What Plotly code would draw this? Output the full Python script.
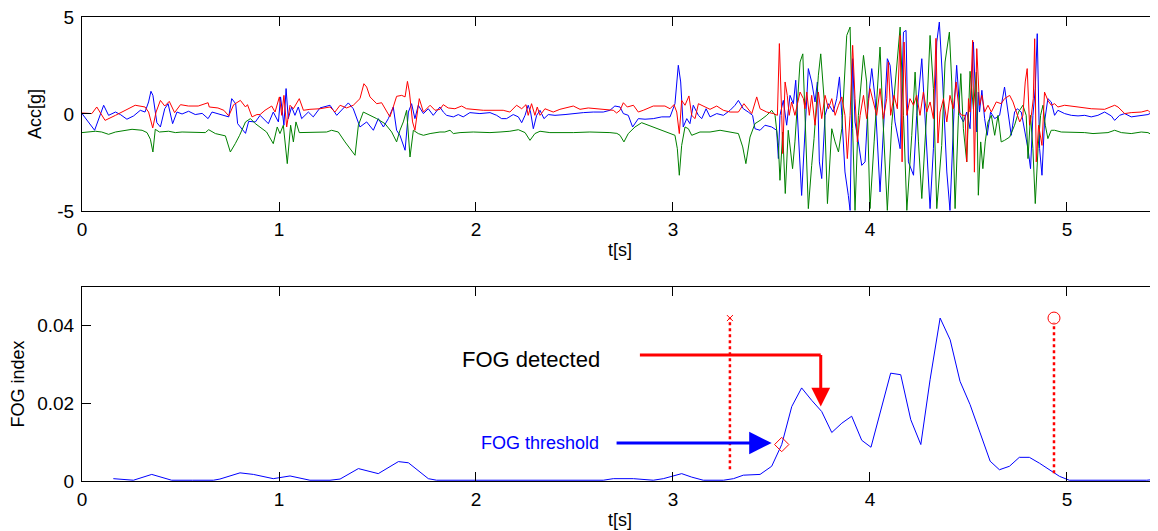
import plotly.graph_objects as go

# ---------------- top panel: acceleration (g) ----------------
red_t = [0.00, 0.05, 0.075, 0.117, 0.17, 0.22, 0.27, 0.32, 0.338, 0.359, 0.376, 0.398, 0.42, 0.443, 0.47, 0.5, 0.54, 0.59, 0.64, 0.646, 0.69, 0.72, 0.745, 0.77, 0.804, 0.83, 0.84, 0.863, 0.888,
         0.904, 0.929, 0.963, 0.98, 1.002, 1.014, 1.025, 1.039, 1.056, 1.073, 1.103, 1.124, 1.157, 1.208, 1.259, 1.284, 1.31, 1.343, 1.377, 1.411, 1.431, 1.445, 1.462, 1.496, 1.521, 1.546, 1.563, 1.58, 1.597, 1.623, 1.64, 1.652, 1.662, 1.678, 1.69, 1.712, 1.733, 1.767, 1.792,
         1.817, 1.834, 1.859, 1.893, 1.927, 1.952, 2.037, 2.138, 2.172, 2.206, 2.232, 2.254, 2.265, 2.282, 2.299, 2.311, 2.325, 2.35, 2.392, 2.426, 2.494, 2.528, 2.57, 2.663, 2.697, 2.714,
         2.731, 2.748, 2.768, 2.799, 2.824, 2.849, 2.9, 2.959, 2.985, 3.005, 3.019, 3.032, 3.044, 3.061, 3.081, 3.095, 3.112, 3.129, 3.154, 3.188, 3.222, 3.256, 3.29, 3.332, 3.36, 3.382, 3.4, 3.425, 3.442, 3.476, 3.51, 3.53, 3.54, 3.552, 3.557, 3.569, 3.58, 3.59, 3.602, 3.619,
         3.645, 3.662, 3.67, 3.679, 3.692, 3.704, 3.721, 3.738, 3.755, 3.772, 3.789, 3.806, 3.823, 3.84, 3.857, 3.873, 3.885, 3.899, 3.912, 3.924, 3.936, 3.95, 3.967, 3.983, 4.0, 4.017, 4.034, 4.051, 4.068, 4.085, 4.093, 4.105, 4.122, 4.139, 4.153, 4.163, 4.173, 4.187, 4.203, 4.221, 4.237, 4.254, 4.271, 4.288, 4.305, 4.322, 4.335, 4.345, 4.356, 4.373, 4.39, 4.406, 4.423, 4.437, 4.453, 4.466, 4.483, 4.491, 4.5, 4.508, 4.521, 4.53, 4.542,
         4.556, 4.568, 4.582, 4.599, 4.616, 4.641, 4.666, 4.683, 4.709, 4.726, 4.743, 4.76, 4.776, 4.788, 4.798, 4.81, 4.819, 4.829, 4.836, 4.844, 4.856, 4.873, 4.886, 4.903, 4.92, 4.937, 4.954, 4.988, 5.056, 5.123, 5.191, 5.242, 5.259, 5.293, 5.326, 5.377, 5.411, 5.436, 5.453, 5.462]
red_g = [0.05, 0.02, 0.36, -0.33, -0.07, 0.19, 0.45, 0.36, 0.1, -0.72, 0.1, 0.7, 0.41, 0.65, 0.07, 0.48, 0.41, 0.41, 0.58, 0.36, 0.31, 0.19, -0.1, 0.48, 0.7, 0.36, 0.48, -0.15, -0.03,
         -0.03, 0.19, 0.41, 0.1, 0.88, -0.07, 0.96, -0.67, 0.45, 0.27, 0.79, 0.19, 0.24, 0.27, 0.36, 0.1, 0.45, 0.31, 0.45, 0.79, 1.56, 1.39, 0.88, 0.53, 0.58, 0.1, -0.15, 0.36, 0.91, 0.96, 0.88, 1.68, 1.13, -0.41, -0.84, 0.79, 0.1, 0.45, 0.19,
         0.24, 0.48, 0.31, 0.27, 0.41, 0.27, 0.19, 0.19, 0.1, 0.45, 0.27, 0.48, -0.07, 0.53, -0.07, 0.36, -0.07, 0.27, 0.1, 0.24, 0.41, 0.24, 0.31, 0.24, 0.19, 0.05,
         0.19, 0.58, 0.36, 0.45, 0.1, 0.19, 0.41, 0.41, 0.27, 0.48, 0.1, -1.01, 0.7, 0.45, 0.93, -0.07, -0.24, 0.53, 0.41, 0.24, 0.41, 0.19, 0.1, 0.1, 0.53, 0.27, 0.02, 0.88, 0.27, 0.1, 0.02, -0.07, 3.63, -0.07, -2.04, 1.65, 0.96, -0.07, 0.62, -0.07,
         1.13, 0.79, 0.27, 1.13, -0.07, 0.96, -0.58, 1.13, -0.24, 0.96, 0.27, 0.79, -0.07, 0.45, 0.88, -0.07, -2.3, -0.07, 3.54, 0.79, -1.44, -0.07, 0.96, -0.24, 1.31, 0.62, -0.07, 1.31, -0.24, 0.79, 2.68, -0.07, 0.96, 0.27, 4.05, -2.47, 3.71, -0.07, 0.79, 0.45, 0.96, -0.07, 1.13, 0.1, 0.62, -0.24, 3.9, -1.5, 0.1, 0.79, -0.41, 0.96, 0.27, 1.65, 0.1, -0.07, -0.07, -2.47, 0.79, 0.1, 3.8, -3.0, 3.37,
         0.45, 0.96, 0.1, 0.45, 0.1, 0.62, 0.53, 0.79, 0.96, 0.62, 0.1, -0.41, -0.07, 1.65, 2.34, -0.58, -0.07, 0.79, 3.88, -2.47, -0.58, -1.62, 1.13, 0.7, 0.45, 0.53, 0.36, 0.45, 0.36, 0.27, 0.24, 0.45, 0.36, 0.02, 0.07, 0.1, 0.19, -0.07, -0.24, -0.15]

blue_t = [0.0, 0.064, 0.11, 0.135, 0.17, 0.195, 0.228, 0.262, 0.296, 0.32, 0.338, 0.35, 0.36, 0.38, 0.398, 0.42, 0.437, 0.46, 0.482, 0.508, 0.541, 0.575, 0.61, 0.64, 0.66, 0.71, 0.745, 0.76, 0.78, 0.79, 0.83, 0.846, 0.88,
          0.904, 0.946, 0.971, 0.997, 1.008, 1.025, 1.036, 1.047, 1.064, 1.081, 1.098, 1.115, 1.149, 1.174, 1.208, 1.259, 1.293, 1.327, 1.352, 1.377, 1.411, 1.445, 1.479, 1.504, 1.53, 1.555, 1.58, 1.597, 1.614, 1.64, 1.657, 1.673, 1.69, 1.707, 1.733, 1.758, 1.783,
          1.817, 1.834, 1.851, 1.885, 1.91, 1.935, 1.969, 2.02, 2.071, 2.105, 2.13, 2.155, 2.189, 2.215, 2.232, 2.249, 2.265, 2.277, 2.291, 2.308, 2.325, 2.345, 2.367, 2.401, 2.452, 2.494, 2.545, 2.595, 2.646, 2.68, 2.705,
          2.731, 2.748, 2.773, 2.795, 2.824, 2.858, 2.9, 2.943, 2.985, 3.01, 3.027, 3.039, 3.052, 3.07, 3.086, 3.103, 3.129, 3.146, 3.168, 3.188, 3.222, 3.256, 3.29, 3.315, 3.332, 3.357, 3.382, 3.404, 3.416, 3.442, 3.467, 3.501, 3.526, 3.535, 3.543, 3.56, 3.577, 3.594, 3.611, 3.623, 3.636,
          3.645, 3.653, 3.67, 3.687, 3.704, 3.721, 3.733, 3.743, 3.755, 3.772, 3.789, 3.814, 3.831, 3.845, 3.857, 3.873, 3.89, 3.899, 3.912, 3.924, 3.941, 3.958, 3.975, 3.992, 4.009, 4.026, 4.051, 4.068, 4.088, 4.102, 4.127, 4.153, 4.17, 4.183, 4.195, 4.221, 4.237, 4.263, 4.279, 4.305, 4.322, 4.339, 4.352, 4.369, 4.39, 4.406, 4.427, 4.44, 4.457, 4.474, 4.491, 4.508, 4.525, 4.542,
          4.55, 4.556, 4.568, 4.582, 4.595, 4.612, 4.633, 4.658, 4.683, 4.7, 4.717, 4.734, 4.748, 4.768, 4.785, 4.802, 4.815, 4.827, 4.839, 4.849, 4.861, 4.873, 4.886, 4.903, 4.92, 4.937, 4.954, 4.988, 5.022, 5.056, 5.09, 5.123, 5.157, 5.191, 5.225, 5.242, 5.267, 5.293, 5.326, 5.377, 5.411, 5.436, 5.462]
blue_g = [0.02, -0.84, 0.45, -0.07, 0.1, -0.03, -0.27, -0.1, 0.19, 0.1, 0.62, 1.17, 0.96, -0.45, -0.67, 0.27, 0.53, -0.5, 0.1, 0.0, 0.14, -0.03, 0.03, -0.24, 0.1, -0.07, -0.15, 0.79, 0.53, -0.5, -1.0, -0.38, -0.41,
          -0.07, -0.5, 0.1, -0.41, 0.88, -0.58, 1.31, -0.24, 0.36, -0.07, 0.36, -0.24, 0.1, -0.15, 0.31, 0.45, -0.07, 0.27, 0.57, 0.27, -0.67, -0.41, -0.84, -0.24, -0.67, -0.24, 0.36, -0.84, -1.1, -1.87, 0.1, 0.53, -0.24, 0.45, 0.02, 0.27, -0.07,
          0.36, 0.1, -0.07, -0.15, -0.03, -0.15, 0.07, 0.02, 0.07, -0.07, -0.24, -0.24, -0.03, -0.15, -0.45, -0.07, 0.45, 0.1, -0.76, -0.07, 0.19, -0.24, -0.03, -0.07, -0.03, 0.02, 0.07, 0.1, 0.1, 0.19, 0.41,
          0.36, 0.02, -0.07, -0.67, -0.24, -0.27, -0.24, -0.15, -0.15, 0.53, 2.51, 1.65, -0.67, -0.24, -0.5, 0.45, -0.07, -0.24, 0.27, -0.15, 0.02, -0.07, 0.19, 0.45, 0.7, 0.27, 0.1, -0.07, -0.76, -0.84, -0.58, -0.67, -0.84, -2.3, -0.07, 0.7, -0.58, 0.96, 0.53, 1.74, -0.93,
          -2.47, -4.2, -0.93, 2.34, 1.65, 0.62, 1.65, -2.47, -3.33, -0.07, 0.53, 0.1, 0.79, 1.91, -0.07, -2.99, -4.2, -4.97, 2.85, -0.41, -1.44, -2.65, -2.47, 0.79, 2.34, 0.79, -4.02, -0.93, 2.85, 2.51, -0.41, -1.79, 4.22, 4.31, -2.47, -3.16, -0.07, 2.85, -0.07, -4.88, -1.79, 3.71, 4.74, 1.65, -2.99, -4.97, 0.27, 2.51, -0.07, -0.41, 0.1, -0.76, 3.71, -0.93,
          1.13, 0.1, 1.22, -0.24, -1.1, 0.1, -0.24, -0.07, 1.39, 0.1, -1.1, 0.1, 0.27, 0.1, -0.93, -1.79, -2.82, -0.07, 1.31, 4.14, -1.79, -3.16, -0.41, 0.79, 0.62, -0.07, 0.19, 0.02, -0.07, -0.1, -0.07, -0.15, -0.07, 0.1, -0.1, -0.33, -0.07, 0.02, -0.15, -0.07, -0.03, 0.1, 0.02]

green_t = [0.0, 0.068, 0.10, 0.135, 0.17, 0.22, 0.254, 0.305, 0.33, 0.347, 0.36, 0.372, 0.393, 0.44, 0.474, 0.508, 0.575, 0.626, 0.643, 0.677, 0.728, 0.753, 0.778, 0.8, 0.83, 0.855, 0.88,
           0.904, 0.937, 0.971, 0.991, 1.005, 1.022, 1.042, 1.059, 1.073, 1.086, 1.103, 1.157, 1.242, 1.267, 1.301, 1.335, 1.369, 1.386, 1.403, 1.428, 1.462, 1.496, 1.538, 1.572, 1.597, 1.614, 1.631, 1.648, 1.665, 1.682, 1.707, 1.733, 1.767, 1.792,
           1.817, 1.842, 1.868, 1.885, 1.919, 1.986, 2.071, 2.122, 2.172, 2.215, 2.249, 2.274, 2.299, 2.325, 2.375, 2.494, 2.578, 2.68, 2.715,
           2.731, 2.751, 2.773, 2.807, 2.841, 2.875, 2.917, 2.968, 3.01, 3.022, 3.032, 3.044, 3.061, 3.078, 3.095, 3.137, 3.188, 3.239, 3.29, 3.332, 3.354, 3.37, 3.391, 3.416, 3.442, 3.476, 3.501, 3.518, 3.535, 3.543, 3.557, 3.57, 3.585, 3.597, 3.607, 3.619, 3.636,
           3.645, 3.659, 3.67, 3.687, 3.704, 3.716, 3.738, 3.75, 3.767, 3.784, 3.806, 3.823, 3.84, 3.857, 3.882, 3.899, 3.912, 3.924, 3.941, 3.967, 3.983, 4.0, 4.021, 4.051, 4.065, 4.088, 4.11, 4.127, 4.153, 4.17, 4.187, 4.212, 4.229, 4.246, 4.263, 4.288, 4.305, 4.322, 4.339, 4.364, 4.381, 4.403, 4.415, 4.432, 4.449, 4.461, 4.474, 4.491, 4.508, 4.525, 4.54,
           4.55, 4.562, 4.573, 4.585, 4.599, 4.616, 4.633, 4.65, 4.666, 4.683, 4.709, 4.734, 4.754, 4.776, 4.793, 4.802, 4.815, 4.827, 4.839, 4.853, 4.866, 4.878, 4.89, 4.903, 4.92, 4.937, 4.971, 5.022, 5.09, 5.132, 5.208, 5.242, 5.276, 5.326, 5.377, 5.411, 5.436, 5.462]
green_g = [-0.96, -0.89, -0.93, -1.05, -0.93, -0.84, -0.79, -0.84, -0.96, -1.3, -1.96, -0.79, -0.93, -0.89, -0.96, -0.93, -0.93, -0.96, -0.81, -1.01, -1.13, -1.96, -1.53, -1.1, -0.41, -0.24, -0.5,
           -0.67, -0.93, -1.53, -0.67, -1.01, -0.58, -2.56, -0.58, -1.44, -0.41, -0.96, -0.96, -0.93, -0.84, -0.93, -1.44, -1.87, -2.13, -0.58, 0.1, -0.07, -0.24, -0.5, -0.93, -1.44, -0.84, -0.41, 0.19, -2.22, -0.84, -1.01, -1.1, -1.01, -0.96,
           -0.93, -0.93, -0.84, -1.01, -0.96, -0.93, -0.96, -0.93, -0.89, -0.81, -0.96, -1.36, -1.01, -0.89, -0.96, -0.96, -0.93, -0.96, -1.0,
           -1.1, -1.44, -1.01, -0.67, -0.45, -0.58, -0.76, -0.93, -1.1, -1.79, -3.16, -1.62, -0.67, -0.76, -1.1, -0.93, -0.93, -0.84, -0.93, -1.01, -1.7, -2.56, -1.19, -0.5, -0.33, -0.07, 0.19, -0.07, -1.62, -3.42, -0.93, -4.1, -0.84, -1.79, -2.82, -1.44, 1.13,
           2.68, 3.1, -0.07, -4.88, -2.65, -1.27, 2.0, 3.1, 0.79, -4.62, -0.76, -1.44, -1.96, -0.76, 4.05, 4.48, -0.76, -4.97, -0.07, 3.02, 1.65, -4.88, -1.44, 3.45, -0.07, -4.97, -0.58, 1.48, 4.48, -0.07, -4.97, -1.1, 2.16, -1.44, -4.36, 0.1, 4.05, 1.31, -4.88, -1.62, 2.68, 4.22, 1.65, -4.88, -0.07, 2.08, -0.76, -2.47, 2.2, 0.27, 2.16,
           -4.19, -1.44, -2.82, -1.44, -0.41, -0.07, -1.1, -0.07, -1.44, -1.36, -1.19, -0.58, 0.1, 0.45, -0.07, -2.3, -0.07, -1.79, -4.62, -1.79, -0.07, 0.45, -0.58, -1.27, -0.84, -0.84, -0.93, -0.93, -0.96, -1.01, -0.96, -0.84, -0.96, -1.01, -0.93, -0.96, -1.1, -1.01]

# ---------------- bottom panel: FOG index ----------------
fog_t = [0.159, 0.261, 0.354, 0.455, 0.56, 0.667, 0.70, 0.802, 0.87, 0.971, 1.056, 1.157, 1.259, 1.31, 1.403, 1.504, 1.606, 1.657, 1.758, 1.80,
         2.646, 2.697, 2.799, 2.9, 2.951, 3.044, 3.095, 3.154, 3.256, 3.307, 3.357, 3.442, 3.501, 3.552, 3.603, 3.653, 3.704, 3.755, 3.806, 3.857,
         3.907, 3.958, 4.005, 4.054, 4.105, 4.156, 4.207, 4.258, 4.305, 4.356, 4.407, 4.457, 4.508, 4.559, 4.61, 4.657, 4.708, 4.758, 4.809, 4.86,
         4.911, 4.962, 5.012, 5.405, 5.462]
fog_idx = [0.0006, 0.0002, 0.0017, 0.0002, 0.0002, 0.0002, 0.0005, 0.0021, 0.0017, 0.0006, 0.0013, 0.0002, 0.0002, 0.0005, 0.0032, 0.0019, 0.005, 0.0047, 0.0006, 0.0002,
           0.0002, 0.0006, 0.0006, 0.0002, 0.0006, 0.0019, 0.001, 0.0002, 0.0002, 0.0006, 0.0015, 0.0017, 0.0038, 0.0094, 0.0192, 0.024, 0.0208, 0.0179, 0.0125, 0.0149,
           0.0167, 0.0105, 0.0087, 0.0179, 0.0278, 0.0274, 0.0158, 0.0094, 0.0261, 0.042, 0.0364, 0.0257, 0.0197, 0.0124, 0.0051, 0.0029, 0.0038, 0.0061, 0.0061, 0.0046,
           0.0029, 0.0012, 0.0002, 0.0002, 0.0005]

fog_start = [3.289, 0.042]     # x marker
fog_end = [4.934, 0.042]       # circle marker
marker_low = [0.003, 0.002]    # bottom ends of dotted lines
threshold_pt = [3.552, 0.0094] # diamond
det_arrow_x = [2.832, 3.75]
det_arrow_y = [0.0325, 0.0192]
thr_arrow_x = [2.706, 3.501]
thr_arrow_y = 0.0098
det_label = [2.279, 0.0314]
thr_label = [2.325, 0.0098]

FONT = "Liberation Sans, Arial, Helvetica, sans-serif"
RED, BLUE, GREEN = "#ff0000", "#0000ff", "#008000"

fig = go.Figure()
fig.add_trace(go.Scatter(x=blue_t, y=blue_g, mode="lines", line=dict(color=BLUE, width=1), xaxis="x", yaxis="y"))
fig.add_trace(go.Scatter(x=green_t, y=green_g, mode="lines", line=dict(color=GREEN, width=1), xaxis="x", yaxis="y"))
fig.add_trace(go.Scatter(x=red_t, y=red_g, mode="lines", line=dict(color=RED, width=1), xaxis="x", yaxis="y"))

fig.add_trace(go.Scatter(x=fog_t, y=fog_idx, mode="lines", line=dict(color=BLUE, width=1), xaxis="x2", yaxis="y2"))
# dotted start/end lines
fig.add_trace(go.Scatter(x=[fog_start[0], fog_start[0]], y=[marker_low[0], fog_start[1]], mode="lines",
                         line=dict(color=RED, width=2.5, dash="dot"), xaxis="x2", yaxis="y2"))
fig.add_trace(go.Scatter(x=[fog_end[0], fog_end[0]], y=[marker_low[1], fog_end[1] - 0.0012], mode="lines",
                         line=dict(color=RED, width=2.5, dash="dot"), xaxis="x2", yaxis="y2"))
fig.add_trace(go.Scatter(x=[fog_start[0]], y=[fog_start[1]], mode="markers",
                         marker=dict(symbol="x-thin", size=6, line=dict(color=RED, width=1)), xaxis="x2", yaxis="y2"))
fig.add_trace(go.Scatter(x=[fog_end[0]], y=[fog_end[1]], mode="markers",
                         marker=dict(symbol="circle-open", size=12, color=RED, line=dict(color=RED, width=1)), xaxis="x2", yaxis="y2"))
fig.add_trace(go.Scatter(x=[threshold_pt[0]], y=[threshold_pt[1]], mode="markers",
                         marker=dict(symbol="diamond-open", size=11, color=RED, line=dict(color=RED, width=1)), xaxis="x2", yaxis="y2"))
# red elbow of "FOG detected" arrow
fig.add_trace(go.Scatter(x=[det_arrow_x[0], det_arrow_x[1]], y=[det_arrow_y[0], det_arrow_y[0]], mode="lines",
                         line=dict(color=RED, width=3), xaxis="x2", yaxis="y2"))

axis_common = dict(showline=True, linecolor="black", linewidth=1, ticks="inside", ticklen=9,
                   tickcolor="black", tickwidth=1, showgrid=False, zeroline=False, automargin=False,
                   ticklabeloverflow="allow",
                   tickfont=dict(family=FONT, size=19, color="black"))

# the page body has an 8px margin, so the figure is sized to fit inside the window
fig.update_layout(
    width=1150, height=523,
    margin=dict(l=74, r=0, t=9, b=50),
    paper_bgcolor="white", plot_bgcolor="white",
    showlegend=False,
    font=dict(family=FONT, size=18, color="black"),
    xaxis=dict(domain=[0, 1], range=[0, 5.462], anchor="y", tickvals=[0, 1, 2, 3, 4, 5], mirror="ticks",
               title=dict(text="t[s]", standoff=4, font=dict(family=FONT, size=18)), ticklabelstandoff=1, **axis_common),
    yaxis=dict(domain=[0.582, 1], range=[-5, 5], anchor="x", tickvals=[-5, 0, 5], ticktext=["-5", "0", "5"],
               title=dict(text="Acc[g]", standoff=10, font=dict(family=FONT, size=18)), ticklabelstandoff=3, **axis_common),
    xaxis2=dict(domain=[0, 1], range=[0, 5.462], anchor="y2", tickvals=[0, 1, 2, 3, 4, 5], mirror="ticks",
                title=dict(text="t[s]", standoff=4, font=dict(family=FONT, size=18)), ticklabelstandoff=1, **axis_common),
    yaxis2=dict(domain=[0, 0.418], range=[0, 0.05], anchor="x2", tickvals=[0, 0.02, 0.04], ticktext=["0", "0.02", "0.04"],
                title=dict(text="FOG index", standoff=12, font=dict(family=FONT, size=18)), ticklabelstandoff=3, **axis_common),
)

fig.add_annotation(x=det_arrow_x[1], y=det_arrow_y[1], ax=det_arrow_x[1], ay=det_arrow_y[0] + 0.0004,
                   xref="x2", yref="y2", axref="x2", ayref="y2", text="", showarrow=True,
                   arrowhead=2, arrowsize=1.25, arrowwidth=3, arrowcolor=RED)
fig.add_annotation(x=thr_arrow_x[1], y=thr_arrow_y, ax=thr_arrow_x[0], ay=thr_arrow_y,
                   xref="x2", yref="y2", axref="x2", ayref="y2", text="", showarrow=True,
                   arrowhead=2, arrowsize=1.5, arrowwidth=3, arrowcolor=BLUE)
fig.add_annotation(x=det_label[0], y=det_label[1], xref="x2", yref="y2", text="FOG detected", showarrow=False,
                   font=dict(family=FONT, size=22, color="black"))
fig.add_annotation(x=thr_label[0], y=thr_label[1], xref="x2", yref="y2", text="FOG threshold", showarrow=False,
                   font=dict(family=FONT, size=18, color=BLUE))

fig.write_html("out.html")
